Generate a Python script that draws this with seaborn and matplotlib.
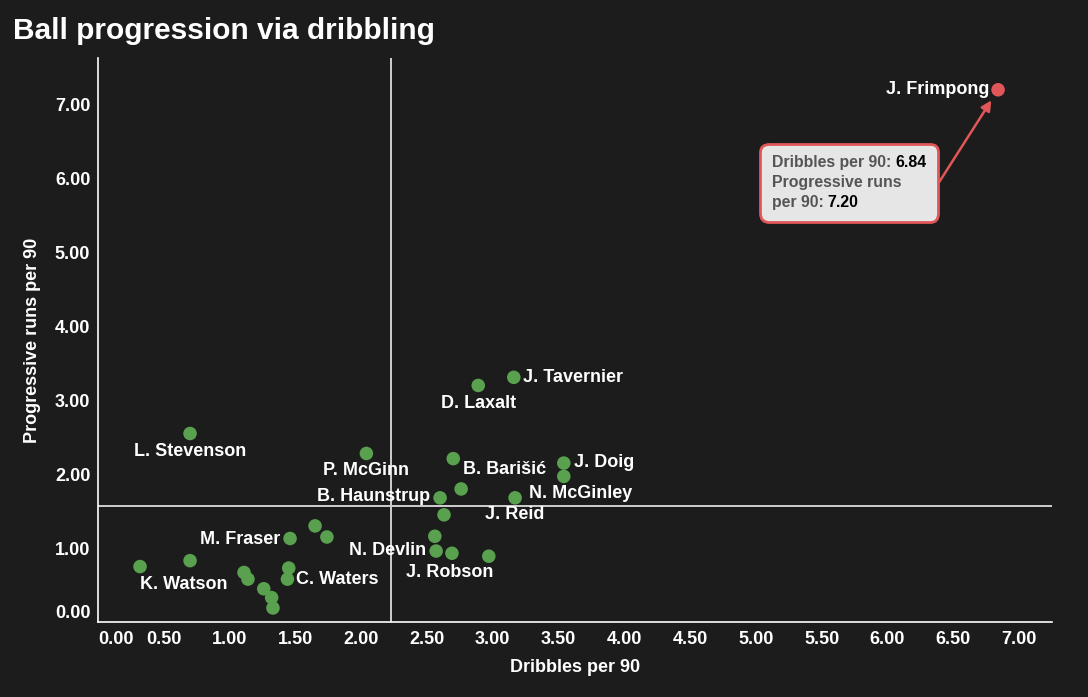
import matplotlib
matplotlib.use("Agg")
import matplotlib.pyplot as plt
import seaborn as sns
import pandas as pd
import numpy as np
from matplotlib.offsetbox import TextArea, HPacker, VPacker, AnnotationBbox

# ---------------- data ----------------
players = ["J. Frimpong", "J. Tavernier", "D. Laxalt", "L. Stevenson", "P. McGinn",
           "B. Barišić", "J. Doig", "N. McGinley", "", "B. Haunstrup", "J. Reid", "",
           "", "N. Devlin", "J. Robson", "", "", "", "M. Fraser", "", "K. Watson",
           "", "", "", "C. Waters", "", "", ""]
dribbles = [6.84, 3.16, 2.89, 0.70, 2.04, 2.70, 3.54, 3.54, 2.76, 2.60, 3.17, 2.63,
            2.56, 2.57, 2.69, 2.97, 1.65, 1.74, 1.46, 0.70, 0.32, 1.11, 1.14, 1.45,
            1.44, 1.26, 1.32, 1.33]
prog_runs = [7.20, 3.31, 3.20, 2.55, 2.28, 2.21, 2.15, 1.97, 1.80, 1.68, 1.68, 1.45,
             1.16, 0.96, 0.93, 0.89, 1.30, 1.15, 1.13, 0.83, 0.75, 0.67, 0.58, 0.73,
             0.58, 0.45, 0.33, 0.19]
x_ticks = [0.0, 0.5, 1.0, 1.5, 2.0, 2.5, 3.0, 3.5, 4.0, 4.5, 5.0, 5.5, 6.0, 6.5, 7.0]
y_ticks = [0, 1, 2, 3, 4, 5, 6, 7]
highlight = "J. Frimpong"

df = pd.DataFrame({"player": players, "dribbles": dribbles, "prog": prog_runs})
df["group"] = np.where(df["player"] == highlight, "hl", "other")

# ---------------- style ----------------
BG = "#1c1c1c"
FG = "#ffffff"
GREEN = "#59a14f"
RED = "#e15759"
sns.set_theme(style="dark")
plt.rcParams["font.family"] = ["Liberation Sans", "DejaVu Sans"]
plt.rcParams["font.weight"] = "bold"

fig = plt.figure(figsize=(10.88, 6.97), dpi=100, facecolor=BG)
ax = fig.add_axes([0.090, 0.1076, 0.877, 0.8094])
ax.set_facecolor(BG)

xmax = df["dribbles"].max() * 1.06
ymax = df["prog"].max() * 1.06

# mean reference lines
ax.axvline(df["dribbles"].mean(), color="#cfcfcf", lw=1.4, zorder=1)
ax.axhline(df["prog"].mean(), color="#cfcfcf", lw=1.4, zorder=1)

sns.scatterplot(data=df, x="dribbles", y="prog", hue="group",
                palette={"hl": RED, "other": GREEN}, s=95, linewidth=0,
                legend=False, ax=ax, zorder=3)

ax.set_xlim(0, xmax)
ax.set_ylim(0, ymax)
ax.set_xticks(x_ticks)
ax.set_yticks(y_ticks)
ax.set_xticklabels([f"{v:.2f}" for v in x_ticks])
ax.set_yticklabels([f"{v:.2f}" for v in y_ticks])
ax.grid(False)
for side in ["top", "right"]:
    ax.spines[side].set_visible(False)
for side in ["left", "bottom"]:
    ax.spines[side].set_color(FG)
    ax.spines[side].set_linewidth(1.2)
ax.tick_params(axis="both", colors=FG, labelcolor=FG, length=4, width=1.2,
               labelsize=13, direction="out")
ax.tick_params(axis="y", pad=1.5)
ax.tick_params(axis="x", pad=2.5)
for t in ax.get_xticklabels() + ax.get_yticklabels():
    t.set_fontweight("bold")
ax.get_xticklabels()[0].set_ha("left")
ax.get_yticklabels()[0].set_va("bottom")

ax.set_xlabel("Dribbles per 90", color=FG, fontsize=13, fontweight="bold", labelpad=8)
ax.set_ylabel("Progressive runs per 90", color=FG, fontsize=13, fontweight="bold")
ax.yaxis.set_label_coords(-0.060, 0.5)

fig.text(0.012, 0.956, "Ball progression via dribbling", color=FG, fontsize=21.5,
         fontweight="bold", ha="left", va="center")

# point labels (offsets in pixels, alignment)
label_style = {
    "J. Frimpong": (-9, 0, "right", "center"),
    "J. Tavernier": (9, 0, "left", "center"),
    "D. Laxalt": (0, -18, "center", "center"),
    "L. Stevenson": (0, -18, "center", "center"),
    "P. McGinn": (0, -17, "center", "center"),
    "B. Barišić": (10, -11, "left", "center"),
    "J. Doig": (10, 1, "left", "center"),
    "N. McGinley": (-35, -17, "left", "center"),
    "B. Haunstrup": (-10, 1, "right", "center"),
    "J. Reid": (0, -17, "center", "center"),
    "N. Devlin": (-10, 1, "right", "center"),
    "J. Robson": (-2, -19, "center", "center"),
    "M. Fraser": (-10, -1, "right", "center"),
    "K. Watson": (0, -18, "left", "center"),
    "C. Waters": (9, 0, "left", "center"),
}
for name, x, y in zip(players, dribbles, prog_runs):
    if name in label_style:
        dx, dy, ha, va = label_style[name]
        ax.annotate(name, (x, y), xytext=(dx, dy), textcoords="offset pixels",
                    ha=ha, va=va, color=FG, fontsize=13, fontweight="bold", zorder=4)

# tooltip-like callout for the highlighted player
hl = df[df["player"] == highlight].iloc[0]
GRAY = "#555555"
tp = dict(color=GRAY, fontsize=11.4, fontweight="bold")
vp = dict(color="#000000", fontsize=11.4, fontweight="bold")
line1 = HPacker(children=[TextArea("Dribbles per 90: ", textprops=tp),
                          TextArea(f"{hl['dribbles']:.2f}", textprops=vp)], pad=0, sep=0)
line2 = TextArea("Progressive runs", textprops=tp)
line3 = HPacker(children=[TextArea("per 90: ", textprops=tp),
                          TextArea(f"{hl['prog']:.2f}", textprops=vp)], pad=0, sep=0)
box = VPacker(children=[line1, line2, line3], pad=0, sep=3.5, align="left")
ab = AnnotationBbox(box, (hl["dribbles"], hl["prog"]), xybox=(-149, -93),
                    boxcoords="offset pixels", frameon=True, pad=0.0,
                    bboxprops=dict(boxstyle="round,pad=0.75,rounding_size=0.55",
                                   fc="#e6e6e6", ec=RED, lw=2), zorder=5)
ax.add_artist(ab)
ax.annotate("", xy=(hl["dribbles"], hl["prog"]), xytext=(-60, -94),
            textcoords="offset pixels",
            arrowprops=dict(arrowstyle="-|>", color=RED, lw=1.8, shrinkA=0, shrinkB=9,
                            mutation_scale=15), zorder=4)

fig.savefig("out.png", dpi=100, facecolor=BG)
